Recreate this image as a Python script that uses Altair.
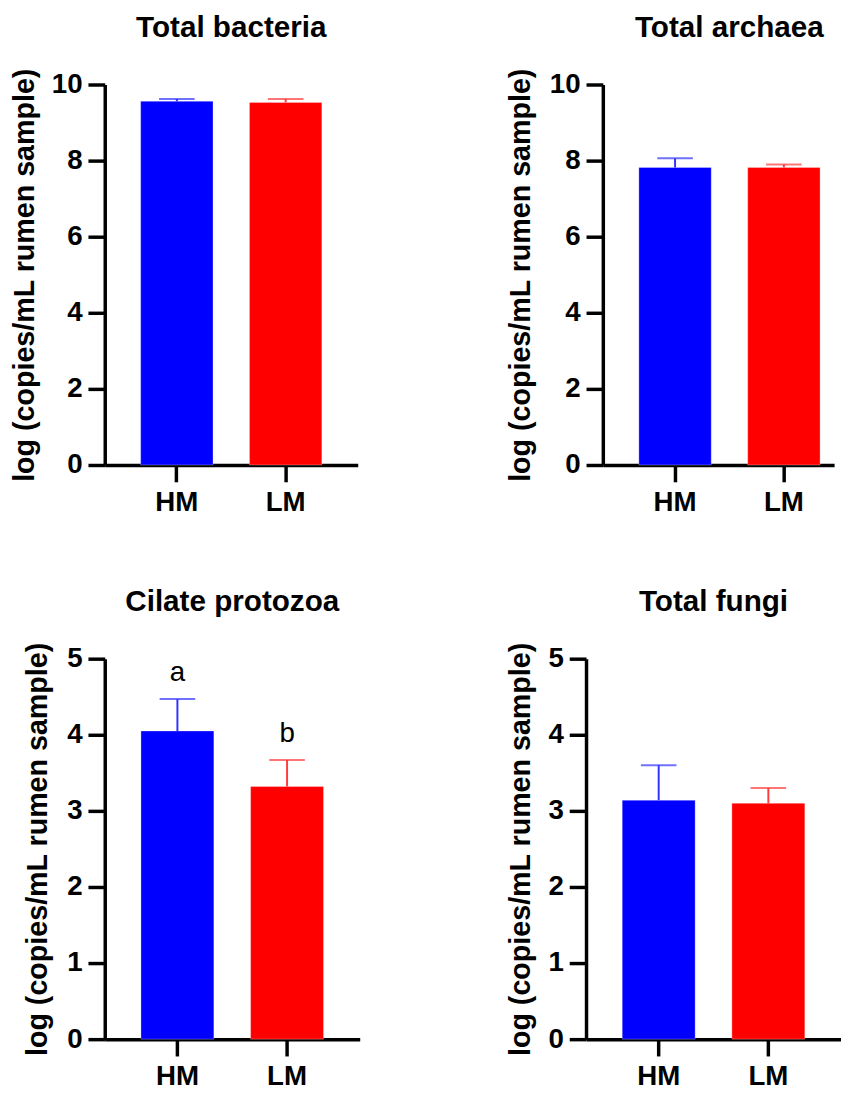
import altair as alt
import pandas as pd

# ---- data ----
groups = ["HM", "LM"]
bar_colors = ["#0000FF", "#FF0000"]
err_colors = ["#3333FF", "#FF3B3B"]

panel_titles = ["Total bacteria", "Total archaea", "Cilate protozoa", "Total fungi"]
bacteria_mean = [9.56, 9.53]
bacteria_upper = [9.62, 9.62]
archaea_mean = [7.82, 7.82]
archaea_upper = [8.06, 7.90]
protozoa_mean = [4.05, 3.32]
protozoa_upper = [4.47, 3.67]
fungi_mean = [3.14, 3.10]
fungi_upper = [3.60, 3.30]
protozoa_letters = ["a", "b"]

ticks_top = [0, 2, 4, 6, 8, 10]
ticks_bottom = [0, 1, 2, 3, 4, 5]
y_title = "log (copies/mL rumen sample)"

FONT = "Liberation Sans"
PLOT_H = 385


def panel(title, mean, upper, letters, ymax, ticks, width, xscale, title_x, title_dx=0):
    df = pd.DataFrame({
        "group": groups,
        "mean": mean,
        "upper": upper,
        "bcolor": bar_colors,
        "ecolor": err_colors,
    })
    x = alt.X("group:N", sort=groups, scale=xscale,
              axis=alt.Axis(title=None, labelAngle=0, labelPadding=7))
    yscale = alt.Scale(domain=[0, ymax], nice=False, zero=True)
    y = alt.Y("mean:Q", scale=yscale,
              axis=alt.Axis(values=ticks, title=y_title, labelPadding=6,
                            titleX=title_x, titleY=PLOT_H / 2, titleAngle=270,
                            titleAlign="center", titleBaseline="alphabetic",
                            format="d"))
    base = alt.Chart(df)
    bars = base.mark_bar(stroke="white", strokeWidth=0.6, strokeOpacity=0.5).encode(
        x=x, y=y, color=alt.Color("bcolor:N", scale=None, legend=None))
    stem = base.mark_rule(strokeWidth=2).encode(
        x=alt.X("group:N", sort=groups), y=alt.Y("mean:Q"), y2="upper:Q",
        color=alt.Color("ecolor:N", scale=None, legend=None))
    cap = base.mark_tick(size=36, thickness=2).encode(
        x=alt.X("group:N", sort=groups), y=alt.Y("upper:Q"),
        color=alt.Color("ecolor:N", scale=None, legend=None))
    layers = [bars, stem, cap]
    if letters:
        df_t = df.assign(letter=letters)
        text = alt.Chart(df_t).mark_text(font=FONT, fontSize=28, color="black",
                                         baseline="alphabetic", dy=-18).encode(
            x=alt.X("group:N", sort=groups), y=alt.Y("upper:Q"), text="letter:N")
        layers.append(text)
    return alt.layer(*layers).properties(
        width=width, height=PLOT_H,
        title=alt.TitleParams(title, font=FONT, fontSize=30, fontWeight="bold",
                              color="black", anchor="middle", baseline="alphabetic",
                              offset=1, dx=title_dx),
    )


full_scale = alt.Scale(paddingInner=0.335, paddingOuter=0.33)
cut_scale = alt.Scale(paddingInner=0.335, paddingOuter=0.23, align=0.72)

p1 = panel(panel_titles[0], bacteria_mean, bacteria_upper, None, 10, ticks_top, 256, full_scale, -72)
p2 = panel(panel_titles[1], archaea_mean, archaea_upper, None, 10, ticks_top, 234, cut_scale, -74, title_dx=11)
p3 = panel(panel_titles[2], protozoa_mean, protozoa_upper, protozoa_letters, 5, ticks_bottom, 258, full_scale, -59)
p4 = panel(panel_titles[3], fungi_mean, fungi_upper, None, 5, ticks_bottom, 258, full_scale, -57)

chart = alt.concat(
    p1, p2, p3, p4, columns=2, align="none",
    spacing={"row": 72, "column": 148},
).properties(
    padding={"left": 10, "top": 7, "right": 0, "bottom": 0},
    background="white",
).configure_view(stroke=None).configure_axis(
    grid=False,
    domainColor="black", domainWidth=3.5,
    tickColor="black", tickWidth=3.5, tickSize=17,
    labelFont=FONT, labelFontSize=28, labelFontWeight="bold", labelColor="black",
    titleFont=FONT, titleFontSize=29, titleFontWeight="bold", titleColor="black",
)

chart.save("out.html", embed_options={"renderer": "svg", "actions": False})
